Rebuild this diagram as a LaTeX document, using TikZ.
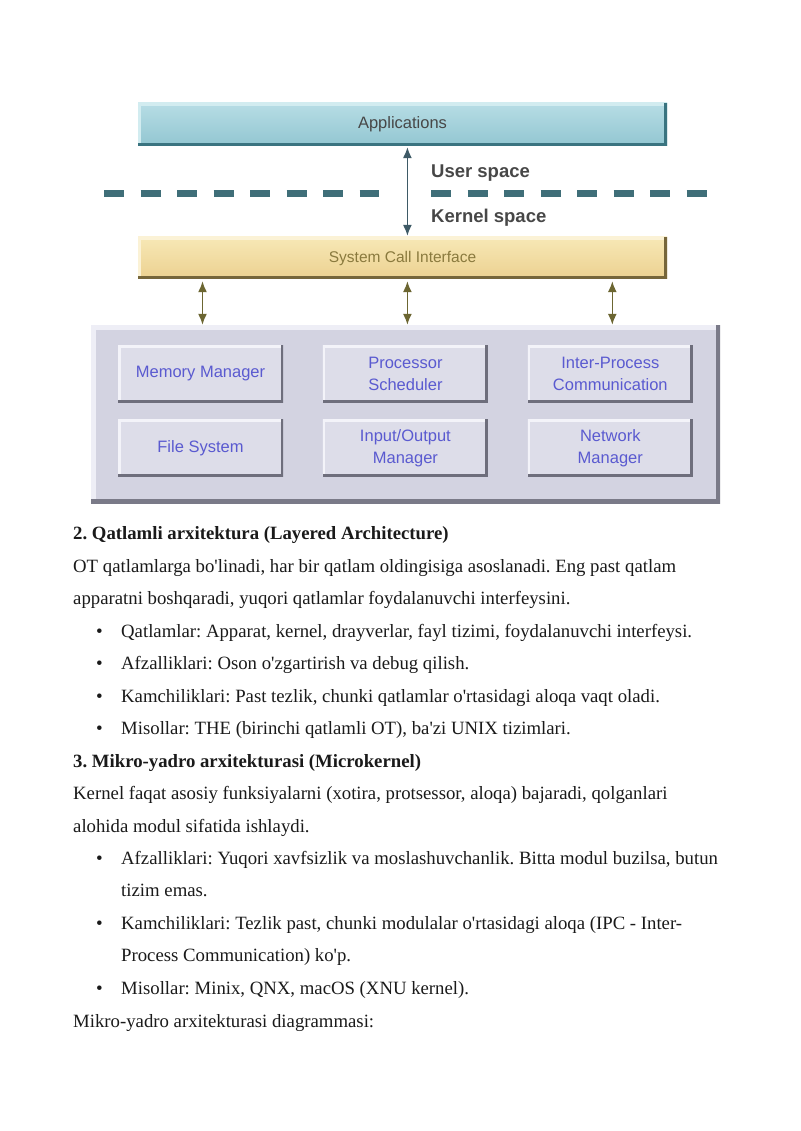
\documentclass[tikz,border=0pt]{standalone}
\usepackage{fontspec}
\setmainfont{Liberation Serif}
\newfontfamily\diagfont{Liberation Sans}
\usetikzlibrary{arrows.meta,positioning}
\frenchspacing
\definecolor{apptop}{HTML}{B7DDE5}
\definecolor{appbot}{HTML}{92C6D1}
\definecolor{applight}{HTML}{D2ECF0}
\definecolor{appdark}{HTML}{3A7480}
\definecolor{scitop}{HTML}{F7E8B6}
\definecolor{scibot}{HTML}{ECD190}
\definecolor{scilight}{HTML}{FBF2D6}
\definecolor{scidark}{HTML}{76663A}
\definecolor{scitext}{HTML}{8A7A3E}
\definecolor{kernfill}{HTML}{D3D3E1}
\definecolor{kernlight}{HTML}{EEEEF6}
\definecolor{kerndark}{HTML}{7A7A88}
\definecolor{modfill}{HTML}{DDDDE9}
\definecolor{modlight}{HTML}{F3F3F9}
\definecolor{moddark}{HTML}{6E6E7C}
\definecolor{modtext}{HTML}{5A5AD0}
\definecolor{divcol}{HTML}{3F6E78}
\definecolor{arrcol}{HTML}{3E5A66}
\definecolor{olivecol}{HTML}{6C6632}
\definecolor{labelcol}{HTML}{474747}
\definecolor{textcol}{HTML}{1A1A1A}
\newcommand{\apos}{\textquotesingle}
\newcommand{\drawbevel}[3]{%
  \draw[#1,line width=#3] (path picture bounding box.south west) -- (path picture bounding box.north west) -- (path picture bounding box.north east);
  \draw[#2,line width=#3] (path picture bounding box.north east) -- (path picture bounding box.south east) -- (path picture bounding box.south west);}
\tikzstyle{every node}=[inner sep=0pt]
\tikzstyle{applayer}=[rectangle,
                      top color=apptop,
                      bottom color=appbot,
                      minimum width=529pt,
                      minimum height=43pt,
                      text=labelcol,
                      font=\diagfont\fontsize{16.5}{19}\selectfont,
                      path picture={\drawbevel{applight}{appdark}{6pt}}]
\tikzstyle{scilayer}=[rectangle,
                      top color=scitop,
                      bottom color=scibot,
                      minimum width=529pt,
                      minimum height=42pt,
                      text=scitext,
                      font=\diagfont\fontsize{15.5}{18}\selectfont,
                      path picture={\drawbevel{scilight}{scidark}{6pt}}]
\tikzstyle{kernbox}=[rectangle,
                     fill=kernfill,
                     minimum width=629pt,
                     minimum height=178pt,
                     path picture={\drawbevel{kernlight}{kerndark}{9pt}}]
\tikzstyle{module}=[rectangle,
                    fill=modfill,
                    minimum width=165pt,
                    minimum height=57pt,
                    align=center,
                    text=modtext,
                    font=\diagfont\fontsize{16.5}{22}\selectfont,
                    path picture={\drawbevel{modlight}{moddark}{5pt}}]
\tikzstyle{spacelabel}=[anchor=west,
                        text=labelcol,
                        font=\diagfont\bfseries\fontsize{18.5}{22}\selectfont]
\tikzstyle{divider}=[divcol, line width=7pt, dash pattern=on 20pt off 16.5pt]
\tikzstyle{twoway}=[{Latex[length=11pt,width=9pt]}-{Latex[length=11pt,width=9pt]}]
\tikzstyle{body}=[anchor=base west, text=textcol, font=\fontsize{18.75}{22}\selectfont]
\tikzstyle{head}=[anchor=base west, text=textcol, font=\bfseries\fontsize{18.75}{22}\selectfont]
\tikzstyle{bullet}=[anchor=base west, text=textcol, font=\fontsize{19}{22}\selectfont]

\begin{document}
\begin{tikzpicture}[x=1pt,y=1pt]
\useasboundingbox (0,0) rectangle (800,-1131);
% layers of the monolithic kernel
\node (app)  [applayer] at (402.5,-124.5) {Applications};
\node (sci)  [scilayer] at (402.5,-258) {System Call Interface};
\node (kern) [kernbox] at (405.5,-414) {};
\node (mem)  [module] at (200.5,-373.5) {Memory Manager};
\node (proc) [module,right=39.5pt of mem] {Processor\\Scheduler};
\node (ipc)  [module,right=39.5pt of proc] {Inter-Process\\Communication};
\node (fs)   [module,below=17pt of mem] {File System};
\node (io)   [module,below=17pt of proc] {Input/Output\\Manager};
\node (net)  [module,below=17pt of ipc] {Network\\Manager};
% user / kernel border
\draw[divider] (104,-193.5) -- (379,-193.5);
\draw[divider] (431,-193.5) -- (707,-193.5);
\node (user)  [spacelabel] at (431,-173) {User space};
\node (kspace) [spacelabel] at (431,-218) {Kernel space};
\draw[twoway, arrcol, line width=1.3pt] ([xshift=2pt,yshift=-1pt]app.south -| proc) -- ([xshift=2pt,yshift=1pt]sci.north -| proc);
\foreach \m in {mem,proc,ipc}
  \draw[twoway, olivecol, line width=1.5pt] ([xshift=2pt,yshift=-2pt]sci.south -| \m) -- ([xshift=2pt]kern.north -| \m);
% text below the picture
\node (h2) [head] at (73,-539) {2. Qatlamli arxitektura (Layered Architecture)};
\node (p1) [body] at (73,-572) {OT qatlamlarga bo\apos linadi, har bir qatlam oldingisiga asoslanadi. Eng past qatlam};
\node (p2) [body] at (73,-604) {apparatni boshqaradi, yuqori qatlamlar foydalanuvchi interfeysini.};
\node (b1) [bullet] at (96,-637) {•};
\node (i1) [body] at (121,-637) {Qatlamlar: Apparat, kernel, drayverlar, fayl tizimi, foydalanuvchi interfeysi.};
\node (b2) [bullet] at (96,-669) {•};
\node (i2) [body] at (121,-669) {Afzalliklari: Oson o\apos zgartirish va debug qilish.};
\node (b3) [bullet] at (96,-702) {•};
\node (i3) [body] at (121,-702) {Kamchiliklari: Past tezlik, chunki qatlamlar o\apos rtasidagi aloqa vaqt oladi.};
\node (b4) [bullet] at (96,-734) {•};
\node (i4) [body] at (121,-734) {Misollar: THE (birinchi qatlamli OT), ba\apos zi UNIX tizimlari.};
\node (h3) [head] at (73,-767) {3. Mikro-yadro arxitekturasi (Microkernel)};
\node (p3) [body] at (73,-799) {Kernel faqat asosiy funksiyalarni (xotira, protsessor, aloqa) bajaradi, qolganlari};
\node (p4) [body] at (73,-832) {alohida modul sifatida ishlaydi.};
\node (b5) [bullet] at (96,-864) {•};
\node (i5) [body] at (121,-864) {Afzalliklari: Yuqori xavfsizlik va moslashuvchanlik. Bitta modul buzilsa, butun};
\node (i5b) [body] at (121,-896) {tizim emas.};
\node (b6) [bullet] at (96,-929) {•};
\node (i6) [body] at (121,-929) {Kamchiliklari: Tezlik past, chunki modulalar o\apos rtasidagi aloqa (IPC - Inter-};
\node (i6b) [body] at (121,-961) {Process Communication) ko\apos p.};
\node (b7) [bullet] at (96,-994) {•};
\node (i7) [body] at (121,-994) {Misollar: Minix, QNX, macOS (XNU kernel).};
\node (p5) [body] at (73,-1027) {Mikro-yadro arxitekturasi diagrammasi:};
\end{tikzpicture}
\end{document}
